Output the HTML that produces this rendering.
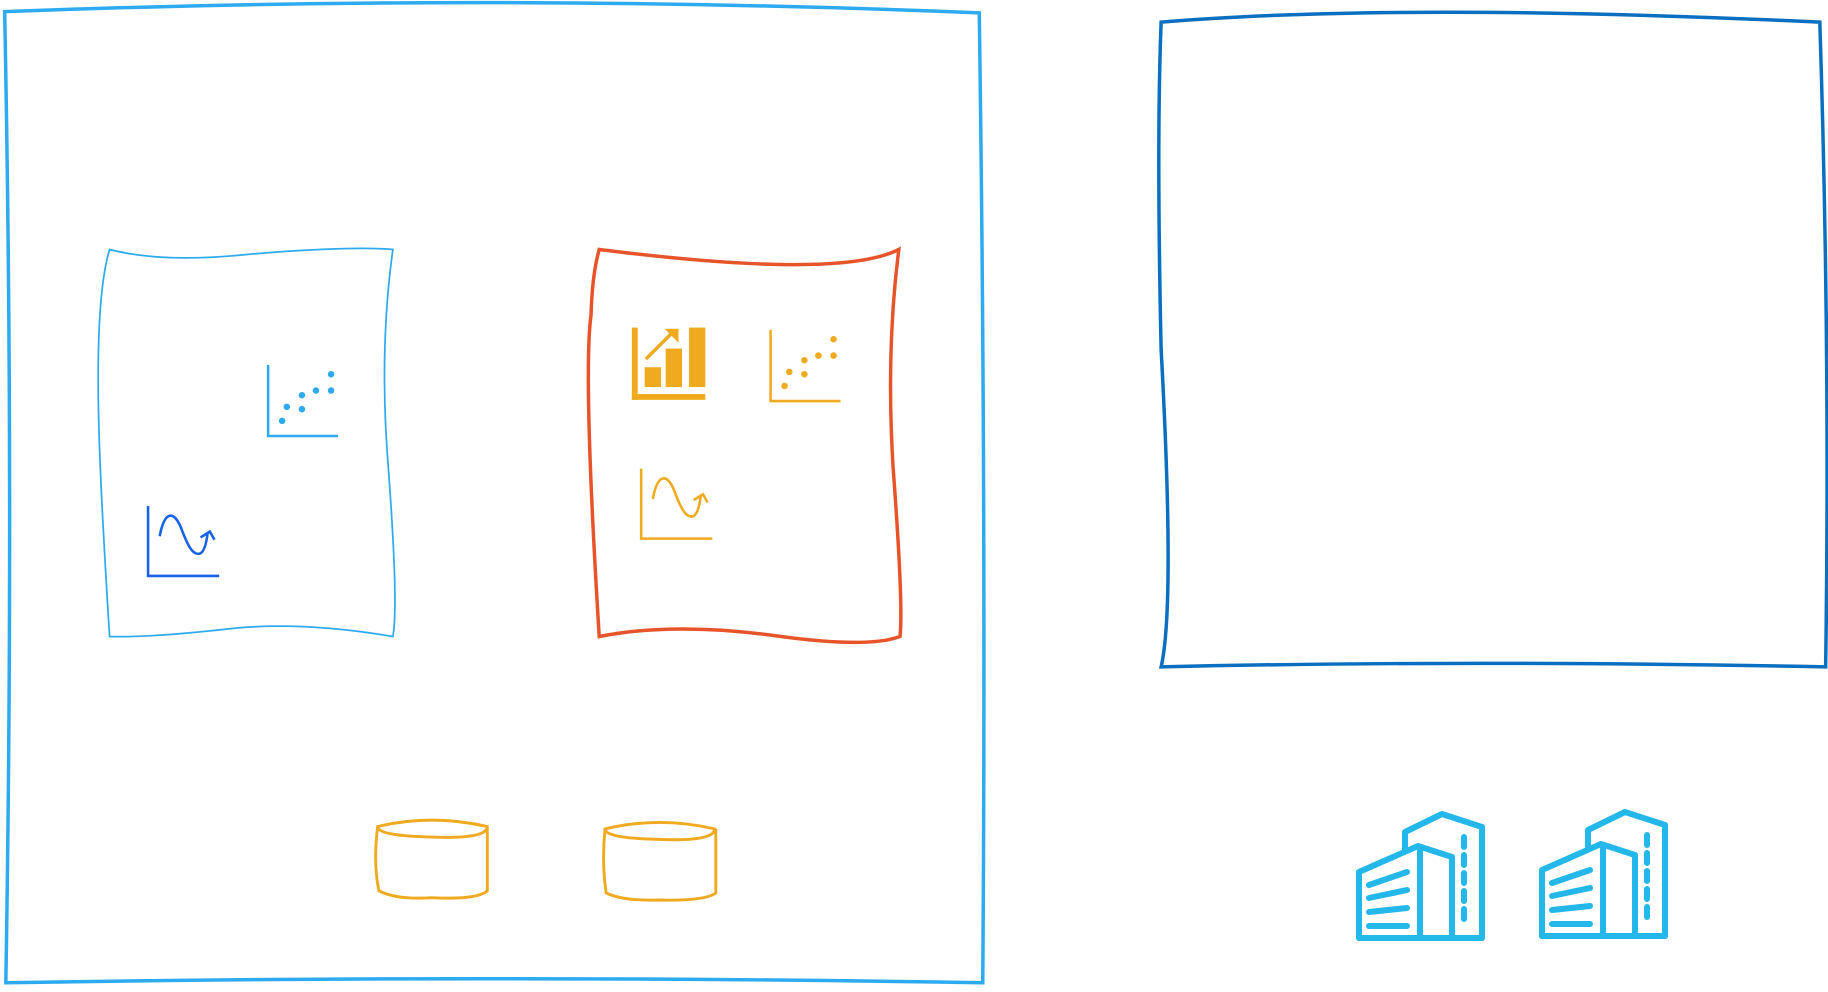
<!DOCTYPE html>
<html><head><meta charset="utf-8"><style>html,body{margin:0;padding:0;background:#fff;width:1828px;height:992px;overflow:hidden}svg{display:block}</style></head>
<body>
<svg width="1828" height="992" viewBox="0 0 1828 992" xmlns="http://www.w3.org/2000/svg">
<defs>
<g id="sc">
<path d="M0 0 V61 H60" fill="none" stroke-width="2.2"/>
<g stroke="none">
<circle cx="12" cy="48" r="2.8"/><circle cx="16" cy="36" r="2.8"/><circle cx="29" cy="38" r="2.8"/><circle cx="29" cy="26" r="2.8"/><circle cx="41" cy="22" r="2.8"/><circle cx="54" cy="22" r="2.8"/><circle cx="54" cy="8" r="2.8"/>
</g></g>
<g id="wv" fill="none" stroke-width="2.2">
<path d="M0 0 V60 H61"/>
<path d="M10 26 C14 4 22 4 28 18 C34 34 38 42 44 41 C48 40 50 32 51 24"/>
<path d="M45 27 L53 22 L57 29"/>
</g>
<g id="bld" fill="none" stroke="#23b7ea" stroke-width="6" stroke-linecap="round" stroke-linejoin="round">
<path d="M1405 850 V832 L1442 814 L1482 827 V938"/>
<path d="M1359 938 V872 L1418 846 L1452 857 V938"/>
<path d="M1359 938 H1482 M1420 848 V938"/>
<path d="M1369 885 L1407 872 M1369 898 L1407 890 M1369 912 L1407 908 M1369 926 L1407 926"/>
<path d="M1464 837 V922" stroke-dasharray="10 8"/>
</g>
</defs>
<g transform="scale(1.1658)">
<path d="M4 10 Q420 -6 840 11 Q846 430 843 843 Q420 836 5 843 Q12 420 4 10 Z" fill="none" stroke="#2eaaf0" stroke-width="3"/>
<path d="M996 19 Q1200 2 1561 19 Q1570 300 1566 572 Q1260 566 996 572 Q1008 520 996 300 Q992 120 996 19 Z" fill="none" stroke="#0a6fc0" stroke-width="3"/>
<path d="M94 214 Q140 226 215 218 Q300 211 337 214 Q325 300 333 400 Q342 520 337 546 Q260 533 200 539 Q130 547 94 546 Q88 450 86 400 Q80 260 94 214 Z" fill="none" stroke="#2eaaf0" stroke-width="1.5"/>
<path d="M514 214 Q720 240 771 214 Q760 300 766 400 Q775 520 772 546 Q745 556 670 546 Q580 533 514 546 Q500 320 507 270 Q508 235 514 214 Z" fill="none" stroke="#e8542a" stroke-width="3"/>
<use href="#sc" x="230" y="313" fill="#2eaaf0" stroke="#2eaaf0"/>
<use href="#wv" x="127" y="434" stroke="#1762e8"/>
<use href="#sc" x="661" y="283" fill="#f0aa20" stroke="#f0aa20"/>
<use href="#wv" x="550" y="402" stroke="#f0aa20"/>
<g fill="#f0aa20">
<rect x="542" y="281" width="5" height="62"/><rect x="542" y="338" width="63" height="5"/>
<rect x="553" y="315" width="14" height="17"/><rect x="571" y="299" width="14" height="33"/><rect x="591" y="281" width="14" height="51"/>
<path d="M570 282 H582 V294 Z"/>
</g>
<path d="M554 308 L578 284" stroke="#f0aa20" stroke-width="3"/>
<g fill="none" stroke="#f0aa20" stroke-width="2.5">
<path d="M324 709 Q370 698 418 709 Q418 720 370 718 Q324 717 324 709 Z M324 709 Q320 740 325 764 Q340 772 370 770 Q410 772 418 764 V709"/>
<path d="M519 711 Q565 700 613 711 Q613 722 565 720 Q519 719 519 711 Z M519 711 Q516 740 520 766 Q535 773 565 772 Q605 773 614 766 V711"/>
</g>
</g>
<use href="#bld"/>
<use href="#bld" transform="translate(183,-2)"/>
</svg>
</body></html>
